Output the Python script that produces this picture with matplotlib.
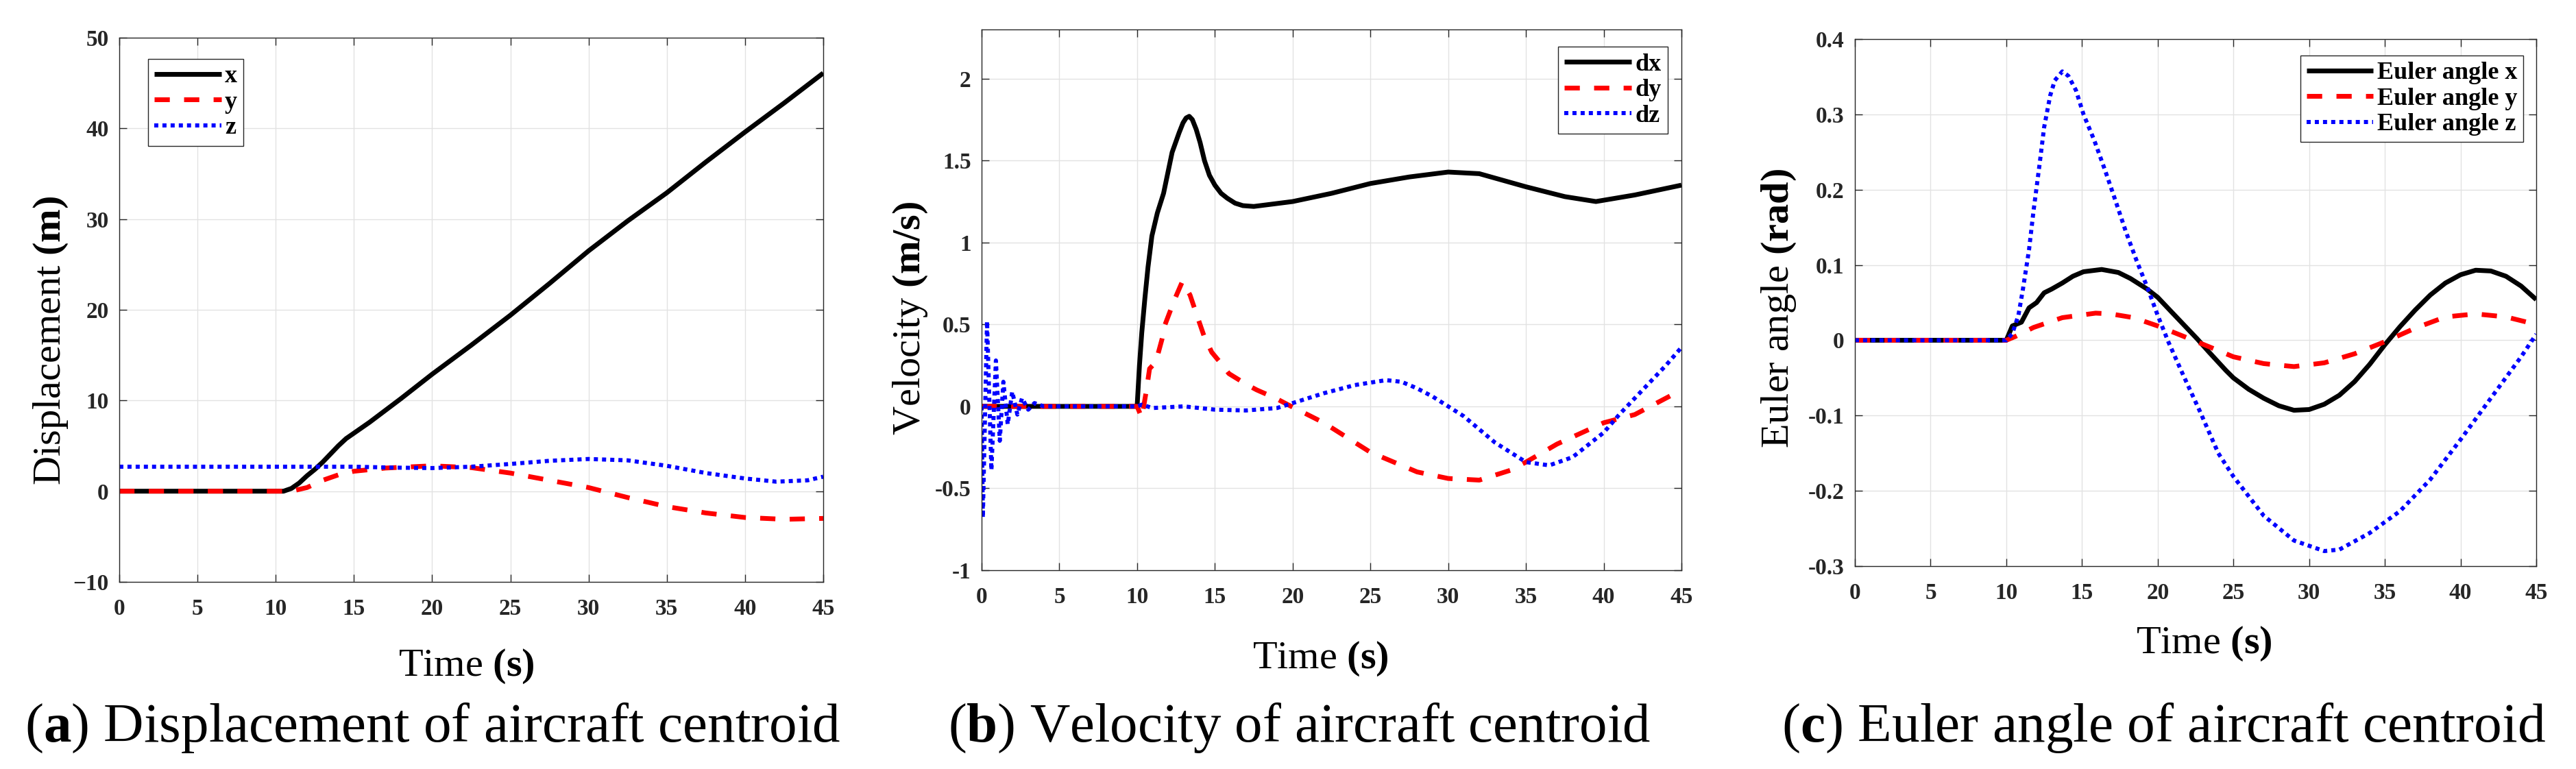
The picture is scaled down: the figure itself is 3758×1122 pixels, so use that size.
import matplotlib
matplotlib.use("Agg")
import matplotlib.pyplot as plt

plt.rcParams['font.family'] = ['Liberation Serif', 'DejaVu Serif']
plt.rcParams['mathtext.fontset'] = 'custom'
plt.rcParams['mathtext.rm'] = 'Liberation Serif'
plt.rcParams['mathtext.bf'] = 'Liberation Serif:bold'
plt.rcParams['mathtext.it'] = 'Liberation Serif:italic'

# ---------------- data ----------------
# (a) displacement
t_dx_a = [0, 10.5, 11, 11.5, 12, 12.5, 13, 13.5, 14, 14.5, 15, 15.5, 16, 17, 18, 20, 22.5, 25, 27.5, 30, 32.5, 35,
          37.5, 40, 42.5, 45]
disp_x = [0, 0, 0.3, 0.9, 1.7, 2.4, 3.2, 4.1, 5.0, 5.8, 6.4, 7.0, 7.6, 8.9, 10.2, 12.9, 16.1, 19.4, 22.9, 26.5,
          29.8, 32.9, 36.3, 39.6, 42.8, 46.1]
t_dy_a = [0, 11, 12, 13, 14, 15, 17, 20, 22.5, 25, 27.5, 30, 32.5, 35, 37.5, 40, 42.5, 45]
disp_y = [0, 0, 0.4, 1.2, 1.8, 2.2, 2.55, 2.8, 2.6, 2.0, 1.2, 0.4, -0.7, -1.7, -2.4, -2.9, -3.1, -3.0]
t_dz_a = [0, 15, 17.5, 20, 22.5, 25, 27.5, 30, 32.5, 35, 37.5, 40, 42, 44, 45]
disp_z = [2.7, 2.7, 2.6, 2.55, 2.7, 3.0, 3.35, 3.55, 3.4, 2.8, 2.0, 1.4, 1.05, 1.2, 1.6]

# (b) velocity
t_vx = [0, 10, 10.15, 10.3, 10.5, 10.7, 10.95, 11.3, 11.7, 12.25, 12.7, 12.95, 13.15, 13.35, 13.55, 13.8, 14.05,
        14.33, 14.65, 15.0, 15.4, 15.8, 16.3, 16.8, 17.5, 20, 22.5, 25, 27.5, 30, 32, 35, 37.5, 39.5, 42, 45]
vel_dx = [0, 0, 0.25, 0.45, 0.66, 0.85, 1.04, 1.18, 1.30, 1.55, 1.67, 1.73, 1.76, 1.77, 1.75, 1.69, 1.61,
          1.50, 1.41, 1.35, 1.30, 1.27, 1.24, 1.225, 1.22, 1.25, 1.30, 1.36, 1.40, 1.43, 1.42, 1.34, 1.28, 1.25,
          1.29, 1.35]
t_vy = [0, 10, 10.3, 10.6, 10.8, 11.2, 11.6, 11.8, 12.2, 12.4, 12.9, 13.4, 13.9, 14.3, 14.8, 15.5, 15.9, 17.1, 17.7,
        18.9, 19.7, 22, 25, 28, 30, 32, 34, 35, 37, 40, 42, 45]
vel_dy = [0, 0, -0.07, 0.1, 0.23, 0.27, 0.41, 0.5, 0.6, 0.65, 0.76, 0.68, 0.54, 0.43, 0.33, 0.25, 0.2, 0.13, 0.1,
          0.05, 0.01, -0.1, -0.28, -0.4, -0.44, -0.45, -0.39, -0.34, -0.23, -0.1, -0.05, 0.1]
t_vz = [0, 0.08, 0.35, 0.63, 0.92, 1.17, 1.4, 1.68, 1.97, 2.3, 2.6, 3.0, 3.4, 4.0, 10, 10.3, 11, 13, 15, 17, 19,
        20, 22, 24, 26, 27, 28, 29, 30, 31, 32, 33, 35, 36.5, 38, 40, 41, 42, 44, 45]
vel_dz = [0, -0.68, 0.52, -0.39, 0.28, -0.21, 0.15, -0.11, 0.09, -0.05, 0.05, -0.02, 0.02, 0, 0, 0.01, -0.01, 0.0,
          -0.02, -0.025, -0.01, 0.02, 0.08, 0.13, 0.16, 0.15, 0.11, 0.06, 0.0, -0.06, -0.14, -0.22, -0.34, -0.36,
          -0.31, -0.16, -0.05, 0.05, 0.25, 0.36]

# (c) Euler angle
t_ex = [0, 10, 10.4, 11, 11.5, 12, 12.5, 13, 13.7, 14.4, 15.1, 16.3, 17.4, 18.2, 19.3, 20, 20.8, 21.7, 22.6, 23.4,
        24.5, 25, 26, 27, 28, 29, 30, 31, 32, 33, 34, 35, 36, 37, 38, 39, 40, 41, 42, 43, 44, 45]
eul_x = [0, 0, 0.019, 0.024, 0.043, 0.05, 0.063, 0.068, 0.076, 0.085, 0.091, 0.094, 0.09, 0.082, 0.068, 0.057, 0.04,
         0.021, 0.002, -0.016, -0.04, -0.05, -0.065, -0.077, -0.087, -0.093, -0.092, -0.085, -0.073, -0.055, -0.032,
         -0.006, 0.018, 0.04, 0.06, 0.076, 0.087, 0.093, 0.092, 0.085, 0.072, 0.054]
t_ey = [0, 10, 10.6, 11.8, 13.7, 15.9, 16.9, 18.4, 20, 22.1, 23.8, 25, 27, 29, 31, 33, 35, 37, 39, 41, 43, 45]
eul_y = [0, 0, 0.005, 0.017, 0.03, 0.036, 0.035, 0.03, 0.019, 0.002, -0.012, -0.022, -0.031, -0.035, -0.03, -0.018,
         -0.002, 0.016, 0.031, 0.035, 0.031, 0.021]
t_ez = [0, 10, 10.4, 10.8, 11.1, 11.5, 11.8, 12.2, 12.5, 12.9, 13.2, 13.7, 14.1, 14.6, 15.1, 15.8, 16.5, 17.2, 17.9,
        18.6, 19.3, 20, 20.7, 21.7, 22.8, 24, 25, 27, 29, 31, 32, 34, 36, 38, 40, 42, 44, 45]
eul_z = [0, 0, 0.009, 0.033, 0.068, 0.12, 0.172, 0.234, 0.283, 0.325, 0.345, 0.357, 0.351, 0.332, 0.3, 0.266, 0.227,
         0.186, 0.144, 0.106, 0.071, 0.033, -0.002, -0.047, -0.095, -0.15, -0.181, -0.233, -0.266, -0.28, -0.278,
         -0.256, -0.227, -0.185, -0.132, -0.077, -0.022, 0.008]

x_ticks = [0, 5, 10, 15, 20, 25, 30, 35, 40, 45]
ya_ticks = [-10, 0, 10, 20, 30, 40, 50]
yb_ticks = [-1, -0.5, 0, 0.5, 1, 1.5, 2]
yb_labels = ['-1', '-0.5', '0', '0.5', '1', '1.5', '2']
yc_ticks = [-0.3, -0.2, -0.1, 0, 0.1, 0.2, 0.3, 0.4]
yc_labels = ['-0.3', '-0.2', '-0.1', '0', '0.1', '0.2', '0.3', '0.4']

legend_a = ['x', 'y', 'z']
legend_b = ['dx', 'dy', 'dz']
legend_c = ['Euler angle x', 'Euler angle y', 'Euler angle z']

captions = [r'($\mathbf{a}$) Displacement of aircraft centroid',
            r'($\mathbf{b}$) Velocity of aircraft centroid',
            r'($\mathbf{c}$) Euler angle of aircraft centroid']

# ---------------- figure ----------------
W, H = 3758, 1122
fig = plt.figure(figsize=(W / 100, H / 100), dpi=100)

def px(x0, y0, x1, y1):
    return [x0 / W, 1 - y1 / H, (x1 - x0) / W, (y1 - y0) / H]

ax_a = fig.add_axes(px(174, 55, 1201, 849))
ax_b = fig.add_axes(px(1432, 43, 2453, 832))
ax_c = fig.add_axes(px(2706, 57, 3700, 826))

LW = 5.0
AXC = '#262626'

def style(ax, ylim, yt, ytl=None):
    ax.set_xlim(0, 45)
    ax.set_ylim(*ylim)
    ax.set_xticks(x_ticks)
    ax.set_yticks(yt)
    if ytl is not None:
        ax.set_yticklabels(ytl)
    ax.grid(True, color='#e2e2e2', linewidth=1.0)
    ax.set_axisbelow(True)
    ax.tick_params(direction='in', length=8, width=1.0, color=AXC, top=True, right=True,
                   labelsize=24, labelcolor=AXC)
    ax.tick_params(axis='x', pad=17)
    ax.tick_params(axis='y', pad=11)
    for lab in ax.get_xticklabels() + ax.get_yticklabels():
        lab.set_fontweight('bold')
    for s in ax.spines.values():
        s.set_color(AXC)
        s.set_linewidth(1.0)

def draw(ax, tx, vx, ty, vy, tz, vz, labels):
    ax.plot(tx, vx, color='black', lw=LW, solid_capstyle='butt', solid_joinstyle='round', label=labels[0])
    ax.plot(ty, vy, color='#ff0000', lw=LW, linestyle=(0, (3.2, 3.0)), dash_capstyle='butt', label=labels[1])
    ax.plot(tz, vz, color='#0000ff', lw=4.3, linestyle=(0, (1, 1)), dash_capstyle='butt', label=labels[2])

def legend(ax, loc, anchor):
    leg = ax.legend(loc=loc, bbox_to_anchor=anchor, borderaxespad=0, fancybox=False, framealpha=1,
                    edgecolor=AXC, prop={'family': 'Liberation Serif', 'weight': 'bold', 'size': 26},
                    handlelength=2.7, handletextpad=0.15, borderpad=0.25, labelspacing=0.12)
    leg.get_frame().set_linewidth(1.0)
    return leg

style(ax_a, (-10, 50), ya_ticks)
draw(ax_a, t_dx_a, disp_x, t_dy_a, disp_y, t_dz_a, disp_z, legend_a)
legend(ax_a, 'upper left', (0.041, 0.961))

style(ax_b, (-1, 2.3), yb_ticks, yb_labels)
draw(ax_b, t_vx, vel_dx, t_vy, vel_dy, t_vz, vel_dz, legend_b)
legend(ax_b, 'upper right', (0.980, 0.968))

style(ax_c, (-0.3, 0.4), yc_ticks, yc_labels)
draw(ax_c, t_ex, eul_x, t_ey, eul_y, t_ez, eul_z, legend_c)
legend(ax_c, 'upper right', (0.981, 0.969))

# axis labels
LBL = 42
fig.text(680 / W, 1 - 986 / H, r'Time $\mathbf{(s)}$', ha='center', va='baseline', fontsize=LBL)
fig.text(1926 / W, 1 - 975 / H, r'Time $\mathbf{(s)}$', ha='center', va='baseline', fontsize=LBL)
fig.text(3215 / W, 1 - 953 / H, r'Time $\mathbf{(s)}$', ha='center', va='baseline', fontsize=LBL)

fig.text(74 / W, 1 - 497 / H, r'Displacement $\mathbf{(m)}$', ha='center', va='center', rotation=90, fontsize=LBL)
fig.text(1328 / W, 1 - 464 / H, r'Velocity $\mathbf{(m/s)}$', ha='center', va='center', rotation=90, fontsize=LBL)
fig.text(2595 / W, 1 - 450 / H, r'Euler angle $\mathbf{(rad)}$', ha='center', va='center', rotation=90, fontsize=LBL)

# captions (size fitted to the reference caption widths)
cap_x = [631, 1895, 3156]
cap_w = [1192, 1026, 1116]
fig.canvas.draw()
renderer = fig.canvas.get_renderer()
for txt, cx, cw in zip(captions, cap_x, cap_w):
    t = fig.text(cx / W, 1 - 1082 / H, txt, ha='center', va='baseline', fontsize=50)
    w = t.get_window_extent(renderer).width
    t.set_fontsize(min(50 * cw / w, 60))

fig.savefig('out.png', dpi=100)
